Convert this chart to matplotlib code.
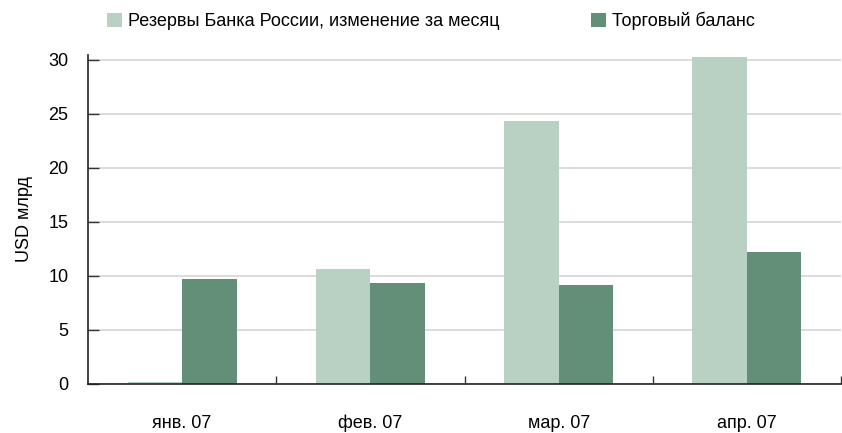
import matplotlib.pyplot as plt
import numpy as np

plt.rcParams['font.family'] = ['Liberation Sans', 'DejaVu Sans']

months = ['янв. 07', 'фев. 07', 'мар. 07', 'апр. 07']
reserves = [0.15, 10.65, 24.35, 30.3]
trade = [9.72, 9.35, 9.17, 12.2]

c_res = '#b8d1c2'
c_trade = '#638e78'

fig = plt.figure(figsize=(8.42, 4.33), dpi=100)
ax = fig.add_axes([88 / 842, 1 - 384 / 433, 753 / 842, 329 / 433])

x = np.arange(len(months))
w = 0.29
ax.bar(x - w / 2, reserves, w, color=c_res, label='Резервы Банка России, изменение за месяц', zorder=2)
ax.bar(x + w / 2, trade, w, color=c_trade, label='Торговый баланс', zorder=2)

ax.set_xlim(-0.5, 3.5)
ax.set_ylim(0, 30.46)
ax.set_yticks(range(0, 31, 5))
ax.yaxis.grid(True, color='#d9d9d9', lw=1.3, zorder=0)
ax.tick_params(axis='y', direction='in', length=8, width=1, labelsize=13, color='#333333', pad=14)

# category boundaries as major ticks, names on minor ticks
ax.set_xticks(np.arange(0.5, 4, 1))
ax.set_xticklabels([])
ax.set_xticks(x, minor=True)
ax.set_xticklabels(months, minor=True)
ax.tick_params(axis='x', which='major', direction='in', length=6, width=1, color='#333333')
ax.tick_params(axis='x', which='minor', length=0, labelsize=13, pad=22)

for s in ['top', 'right']:
    ax.spines[s].set_visible(False)
for s in ['left', 'bottom']:
    ax.spines[s].set_color('#222222')
    ax.spines[s].set_linewidth(1.2)

ax.set_ylabel('USD млрд', fontsize=13, labelpad=11)

fig.legend(loc='center left', bbox_to_anchor=(91 / 842, 1 - 21 / 433), ncol=2, frameon=False,
           handlelength=0.83, handleheight=0.83, handletextpad=0.3, columnspacing=5.1, fontsize=13)

fig.savefig('out.png', dpi=100)
